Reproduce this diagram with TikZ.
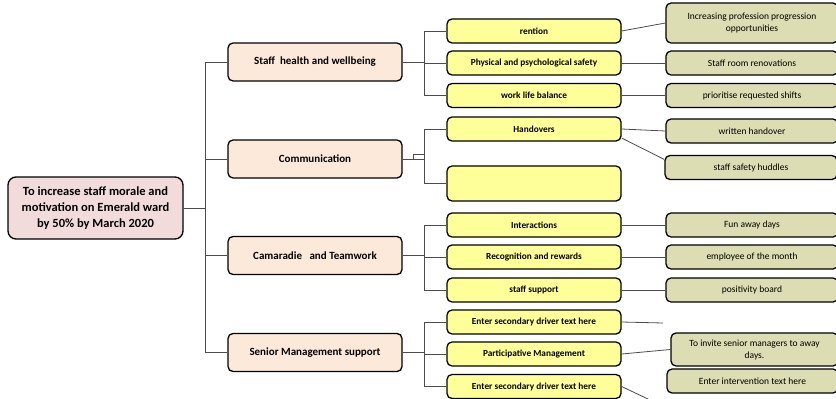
\documentclass[tikz,border=0pt]{standalone}
\usepackage{fontspec}
\setmainfont{Carlito}
\definecolor{aimpink}{RGB}{242,220,219}
\definecolor{primpeach}{RGB}{253,233,217}
\definecolor{secyellow}{RGB}{255,255,153}
\definecolor{changeolive}{RGB}{221,221,180}
\begin{document}
\begin{tikzpicture}[x=1pt,y=-1pt,
  box/.style={draw=black,line width=1.3pt,rounded corners=5pt,align=center,inner sep=1pt},
  aim/.style={box,fill=aimpink,rounded corners=8pt,minimum width=175pt,minimum height=62pt,font=\bfseries\fontsize{12.5}{16}\selectfont},
  primary/.style={box,fill=primpeach,minimum width=174pt,minimum height=38pt,font=\bfseries\fontsize{11}{12}\selectfont},
  secondary/.style={box,fill=secyellow,minimum width=174pt,minimum height=24pt,font=\bfseries\fontsize{9.3}{10}\selectfont},
  change/.style={box,fill=changeolive,minimum width=172pt,minimum height=24pt,font=\fontsize{9.5}{12}\selectfont},
  link/.style={draw=black!70,line width=0.8pt}]
\useasboundingbox (0,0) rectangle (836,399);
% aim
\node[aim] (aim) at (95.5,208) {To increase staff morale and\\motivation on Emerald ward\\by 50\% by March 2020};
% primary drivers
\node[primary] (p1) at (315,62) {Staff~ health and wellbeing};
\node[primary] (p2) at (315,159) {Communication};
\node[primary] (p3) at (315,255.5) {Camaradie~~ and Teamwork};
\node[primary] (p4) at (315,352.5) {Senior Management support};
% secondary drivers
\node[secondary] (s1) at (534,31) {rention};
\node[secondary] (s2) at (534,63) {Physical and psychological safety};
\node[secondary] (s3) at (534,95.5) {work life balance};
\node[secondary] (s4) at (534,129) {Handovers};
\node[secondary,minimum height=35pt] (s5) at (534,183.5) {};
\node[secondary] (s6) at (534,225) {Interactions};
\node[secondary] (s7) at (534,257) {Recognition and rewards};
\node[secondary] (s8) at (534,290) {staff support};
\node[secondary] (s9) at (534,322) {Enter secondary driver text here};
\node[secondary] (s10) at (534,354) {Participative Management};
\node[secondary] (s11) at (534,386.5) {Enter secondary driver text here};
% change ideas
\node[change,minimum height=40pt] (t1) at (752,23) {Increasing profession progression\\opportunities};
\node[change] (t2) at (752,63) {Staff room renovations};
\node[change] (t3) at (752,95.5) {prioritise requested shifts};
\node[change] (t4) at (752,131) {written handover};
\node[change] (t5) at (751,167.5) {staff safety huddles};
\node[change] (t6) at (752,225) {Fun away days};
\node[change] (t7) at (752,257) {employee of the month};
\node[change] (t8) at (752,290) {positivity board};
\node[change,minimum width=167pt,minimum height=33pt] (t9) at (754.5,349.5) {To invite senior managers to away\\days.};
\node[change,minimum width=171pt] (t10) at (752.5,381) {Enter intervention text here};
\coordinate (free1) at (663,323);
\coordinate (free2) at (650,400);
% tree links
\foreach \p in {p1,p2,p3,p4}
  \draw[link] (aim.east) -- ++(22,0) |- (\p.west);
\foreach \p/\s in {p1/s1,p1/s2,p1/s3,p2/s4,p2/s5,p3/s6,p3/s7,p3/s8,p4/s9,p4/s10,p4/s11}
  \draw[link] (\p.east) -- ++(22,0) |- (\s.west);
\draw[link,line width=0.5pt] (p2.east) ++(11,0) rectangle ++(11,-5);
% change links
\foreach \s/\t in {s1/t1,s2/t2,s3/t3,s4/t4,s6/t6,s7/t7,s8/t8,s10/t9}
  \draw[link] (\s.east) -- (\t.west);
\draw[link] ([yshift=-9pt]s4.east) -- ([yshift=8pt]t5.west);
\draw[link] (s9.east) -- (free1);
\draw[link] (s11.east) -- (free2);
\end{tikzpicture}
\end{document}
